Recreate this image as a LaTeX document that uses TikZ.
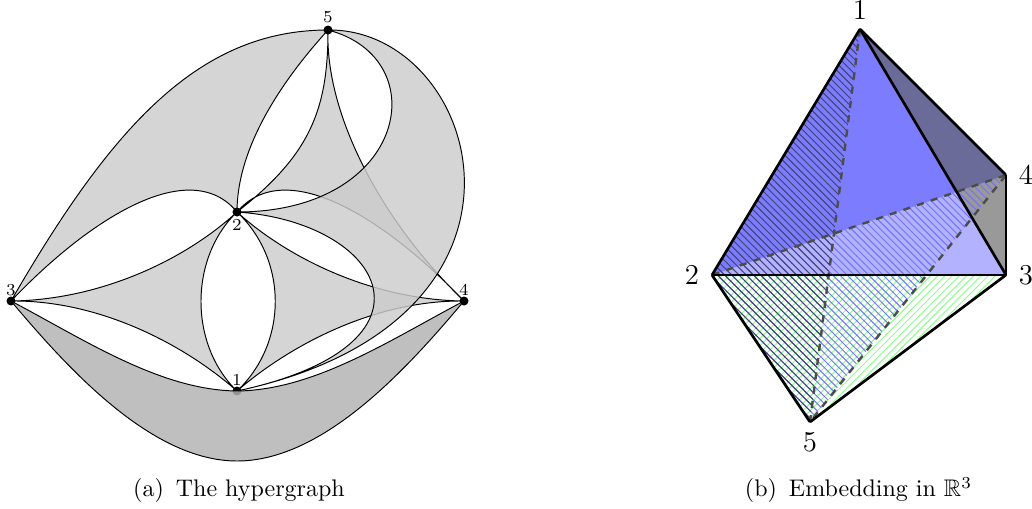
\documentclass[tikz,border=0pt]{standalone}
\usepackage{amsmath, amssymb}
\usetikzlibrary{positioning, patterns}

\tikzset{
  vtx/.style={circle, fill=black, inner sep=0pt, minimum size=3.7pt},
  corner/.style={inner sep=0pt, minimum size=0pt},
  smalllab/.style={font=\scriptsize, inner sep=0pt},
  biglab/.style={font=\large, inner sep=0pt},
  hedge/.style={draw=black, fill=black!20, fill opacity=0.83},
  darkhedge/.style={draw=black, fill=black!30, fill opacity=0.83},
  bluefacet/.style={fill=blue, fill opacity=0.3},
  edgeline/.style={line width=1.1pt, line join=round, line cap=round},
  hiddenline/.style={line width=1pt, dashed, black!70},
}
\definecolor{hatchdark}{RGB}{65,65,115}

\begin{document}
\begin{tikzpicture}[x=0.41667pt, y=-0.41667pt]
  \useasboundingbox (0,0) rectangle (1032,508);

  % the hypergraph
  \node[corner] (a1) at (237,391) {};
  \node[corner] (a2) at (237,212) {};
  \node[corner] (a3) at (11,301) {};
  \node[corner] (a4) at (464,301) {};
  \node[corner] (a5) at (328,30) {};
  \coordinate (bot) at (237,461);

  \draw[hedge] (a3.center) .. controls (100,300) and (185,260) .. (a2.center)
    .. controls (189,258) and (189,345) .. (a1.center)
    .. controls (185,345) and (100,300) .. (a3.center) -- cycle;
  \draw[hedge] (a3.center) .. controls (111,128) and (198,30) .. (a5.center)
    .. controls (278,85) and (237,150) .. (a2.center)
    .. controls (190,155) and (90,218) .. (a3.center) -- cycle;
  \draw[hedge] (a5.center) .. controls (328,110) and (310,155) .. (a2.center)
    .. controls (285,155) and (385,218) .. (a4.center)
    .. controls (382,222) and (325,115) .. (a5.center) -- cycle;
  \draw[hedge] (a2.center) .. controls (288,260) and (288,343) .. (a1.center)
    .. controls (290,345) and (375,300) .. (a4.center)
    .. controls (375,300) and (290,260) .. (a2.center) -- cycle;
  \draw[hedge] (a5.center) .. controls (480,28) and (570,320) .. (a1.center)
    .. controls (452,345) and (385,222) .. (a2.center)
    .. controls (408,212) and (436,58) .. (a5.center) -- cycle;

  \foreach \v in {a1,a2,a3,a4,a5}
    \fill (\v) circle[radius=4.5];

  \draw[darkhedge] (a3.center) .. controls (85,340) and (160,390) .. (a1.center)
    .. controls (315,390) and (390,340) .. (a4.center)
    .. controls (410,365) and (325,461) .. (bot)
    .. controls (150,461) and (65,365) .. (a3.center) -- cycle;

  \node[smalllab, above=1.8pt of a1] (la1) {1};
  \node[smalllab, below=2.6pt of a2] (la2) {2};
  \node[smalllab, above=1.9pt of a3] (la3) {3};
  \node[smalllab, above=1.9pt of a4] (la4) {4};
  \node[smalllab, above=2.4pt of a5] (la5) {5};

  \node (capa) at (239,490) {(a)\enspace The hypergraph};

  % the embedding
  \node[corner] (b1) at (860,29) {};
  \node[corner] (b2) at (712,275) {};
  \node[corner] (b3) at (1006,275) {};
  \node[corner] (b4) at (1006,175) {};
  \node[corner] (b5) at (810,422) {};

  \fill[bluefacet] (b1.center) -- (b2.center) -- (b3.center) -- cycle;
  \fill[bluefacet] (b1.center) -- (b2.center) -- (b4.center) -- cycle;
  \fill[black, fill opacity=0.4] (b1.center) -- (b3.center) -- (b4.center) -- cycle;

  \fill[pattern=north east lines, pattern color=green!45] (b2.center) -- (b3.center) -- (b5.center) -- cycle;
  \fill[pattern=north west lines, pattern color=blue!55] (b2.center) -- (b4.center) -- (b5.center) -- cycle;
  \fill[pattern=north west lines, pattern color=hatchdark] (b1.center) -- (b2.center) -- (b5.center) -- cycle;

  \draw[hiddenline] (b1) -- (b5);
  \draw[hiddenline] (b2) -- (b4);
  \draw[hiddenline] (b4) -- (b5);

  \draw[edgeline] (b1) -- (b2);
  \draw[edgeline] (b1) -- (b3);
  \draw[edgeline] (b1) -- (b4);
  \draw[edgeline] (b2) -- (b3);
  \draw[edgeline] (b2) -- (b5);
  \draw[edgeline] (b3) -- (b4);
  \draw[edgeline] (b3) -- (b5);

  \node[biglab, above=3.5pt of b1] (lb1) {1};
  \node[biglab, left=5pt of b2] (lb2) {2};
  \node[biglab, right=5pt of b3] (lb3) {3};
  \node[biglab, right=5pt of b4] (lb4) {4};
  \node[biglab, below=4pt of b5] (lb5) {5};

  \node (capb) at (858.5,490) {(b)\enspace Embedding in $\mathbb{R}^3$};
\end{tikzpicture}
\end{document}
